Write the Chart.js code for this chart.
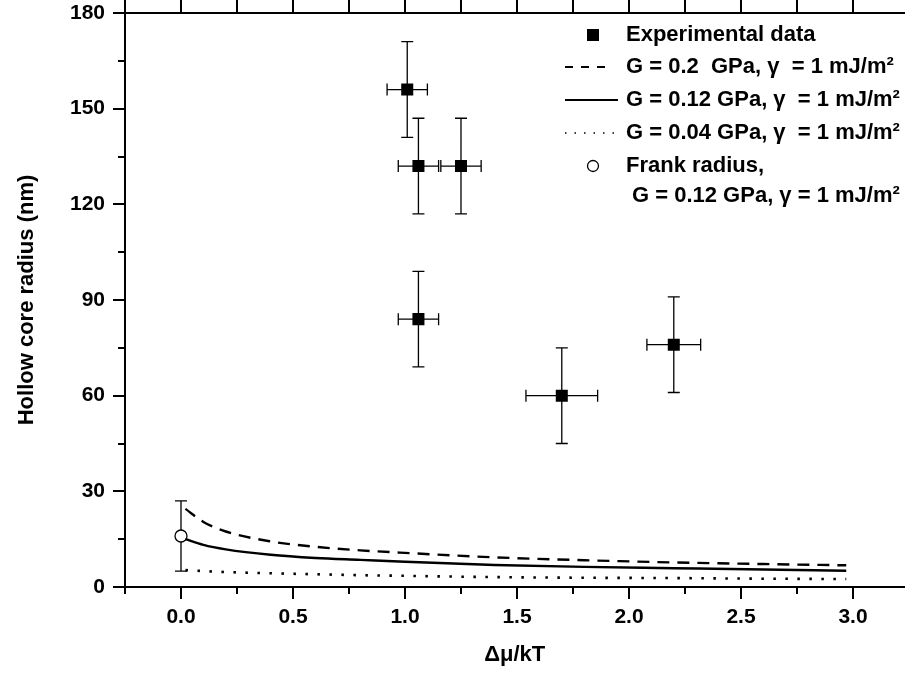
<!DOCTYPE html>
<html>
<head>
<meta charset="utf-8">
<script src="https://cdn.jsdelivr.net/npm/chart.js@4.4.1/dist/chart.umd.min.js"></script>
<style>
  html, body { margin: 0; padding: 0; background: #fff; overflow: hidden; }
  #chart { display: block; }
</style>
</head>
<body>
<canvas id="chart" width="913" height="682"></canvas>
<script>
// experimental points with error bars
const expX = [1.01, 1.06, 1.25, 1.06, 1.70, 2.20];
const expY = [156, 132, 132, 84, 60, 76];
const expXErr = [0.09, 0.09, 0.09, 0.09, 0.16, 0.12];
const expYErr = [15, 15, 15, 15, 15, 15];

// Frank radius point
const frankX = [0];
const frankY = [16];
const frankYErr = [11];

// model curves
const curveX  = [0.02, 0.1, 0.2, 0.4, 0.6, 0.8, 1.0, 1.4, 1.8, 2.2, 2.6, 2.97];
const dashedY = [24.5, 20.4, 17.4, 14.3, 12.6, 11.5, 10.7, 9.3, 8.4, 7.7, 7.2, 6.8];
const solidY  = [15.0, 13.2, 11.8, 10.1, 9.1, 8.5, 7.9, 6.9, 6.3, 5.9, 5.5, 5.1];
const dottedY = [5.3, 5.0, 4.7, 4.3, 4.0, 3.7, 3.5, 3.1, 2.9, 2.8, 2.6, 2.5];

// axes
const xTicks = [0, 0.5, 1.0, 1.5, 2.0, 2.5, 3.0];
const xMinorTicks = [-0.25, 0.25, 0.75, 1.25, 1.75, 2.25, 2.75, 3.25];
const yTicks = [0, 30, 60, 90, 120, 150, 180];
const yMinorTicks = [15, 45, 75, 105, 135, 165];
const xMin = -0.25, xMax = 3.23, yMin = 0, yMax = 180;

const legendLabels = [
    'Experimental data',
    'G = 0.2  GPa, \u03b3  = 1 mJ/m\u00b2',
    'G = 0.12 GPa, \u03b3  = 1 mJ/m\u00b2',
    'G = 0.04 GPa, \u03b3  = 1 mJ/m\u00b2',
    'Frank radius,',
    'G = 0.12 GPa, \u03b3 = 1 mJ/m\u00b2'
];

const FONT = '"Liberation Sans", Arial, sans-serif';

function toPoints(xs, ys) {
    return xs.map((v, i) => ({ x: v, y: ys[i] }));
}

// ---- error bars drawn under the markers ----
const errorBars = {
    id: 'errorBars',
    beforeDatasetsDraw(chart) {
        const { ctx, scales: { x, y } } = chart;
        const cap = 6;
        ctx.save();
        ctx.strokeStyle = '#000';
        ctx.lineWidth = 1.3;
        ctx.beginPath();
        expX.forEach((xv, i) => {
            const px = x.getPixelForValue(xv);
            const py = y.getPixelForValue(expY[i]);
            const yt = y.getPixelForValue(expY[i] + expYErr[i]);
            const yb = y.getPixelForValue(expY[i] - expYErr[i]);
            const xl = x.getPixelForValue(xv - expXErr[i]);
            const xr = x.getPixelForValue(xv + expXErr[i]);
            ctx.moveTo(px, yt); ctx.lineTo(px, yb);
            ctx.moveTo(px - cap, yt); ctx.lineTo(px + cap, yt);
            ctx.moveTo(px - cap, yb); ctx.lineTo(px + cap, yb);
            ctx.moveTo(xl, py); ctx.lineTo(xr, py);
            ctx.moveTo(xl, py - cap); ctx.lineTo(xl, py + cap);
            ctx.moveTo(xr, py - cap); ctx.lineTo(xr, py + cap);
        });
        frankX.forEach((xv, i) => {
            const px = x.getPixelForValue(xv);
            const yt = y.getPixelForValue(frankY[i] + frankYErr[i]);
            const yb = y.getPixelForValue(frankY[i] - frankYErr[i]);
            ctx.moveTo(px, yt); ctx.lineTo(px, yb);
            ctx.moveTo(px - cap, yt); ctx.lineTo(px + cap, yt);
            ctx.moveTo(px - cap, yb); ctx.lineTo(px + cap, yb);
        });
        ctx.stroke();
        ctx.restore();
    }
};

// ---- outward tick marks (major longer than minor) ----
const tickMarks = {
    id: 'tickMarks',
    afterDraw(chart) {
        const { ctx, scales: { x, y, x2 } } = chart;
        ctx.save();
        ctx.strokeStyle = '#000';
        ctx.lineWidth = 2;
        ctx.beginPath();
        xTicks.forEach(v => {
            const p = Math.round(x.getPixelForValue(v));
            ctx.moveTo(p, x.top); ctx.lineTo(p, x.top + 12);
        });
        xMinorTicks.forEach(v => {
            if (v > xMax) return;
            const p = Math.round(x.getPixelForValue(v));
            ctx.moveTo(p, x.top); ctx.lineTo(p, x.top + 7);
        });
        xTicks.concat(xMinorTicks).forEach(v => {
            if (v > xMax) return;
            const p = Math.round(x2.getPixelForValue(v));
            ctx.moveTo(p, x2.bottom); ctx.lineTo(p, x2.bottom - 13);
        });
        yTicks.forEach(v => {
            const p = Math.round(y.getPixelForValue(v));
            ctx.moveTo(y.right, p); ctx.lineTo(y.right - 12, p);
        });
        yMinorTicks.forEach(v => {
            const p = Math.round(y.getPixelForValue(v));
            ctx.moveTo(y.right, p); ctx.lineTo(y.right - 7, p);
        });
        ctx.stroke();
        ctx.restore();
    }
};

// ---- hand drawn legend (needs the two-line Frank entry) ----
const legendBox = {
    id: 'legendBox',
    afterDraw(chart) {
        const { ctx } = chart;
        const symX = 593, lineL = 565, lineR = 618, textX = 626;
        const rowY = [35, 67, 100, 133, 166, 196];
        ctx.save();
        ctx.fillStyle = '#000';
        ctx.strokeStyle = '#000';
        ctx.font = 'bold 22px ' + FONT;
        ctx.textBaseline = 'middle';
        ctx.textAlign = 'left';

        // square
        ctx.fillRect(symX - 6, rowY[0] - 6, 12, 12);
        // dashed
        ctx.lineWidth = 2;
        ctx.setLineDash([8, 8]);
        ctx.beginPath(); ctx.moveTo(lineL, rowY[1]); ctx.lineTo(lineR - 8, rowY[1]); ctx.stroke();
        // solid
        ctx.setLineDash([]);
        ctx.beginPath(); ctx.moveTo(lineL, rowY[2]); ctx.lineTo(lineR, rowY[2]); ctx.stroke();
        // dotted
        ctx.lineWidth = 1.5;
        ctx.setLineDash([1.5, 8]);
        ctx.beginPath(); ctx.moveTo(lineL, rowY[3]); ctx.lineTo(lineR, rowY[3]); ctx.stroke();
        ctx.setLineDash([]);
        // circle
        ctx.lineWidth = 1.3;
        ctx.beginPath(); ctx.arc(symX, rowY[4], 5.5, 0, Math.PI * 2);
        ctx.fillStyle = '#fff'; ctx.fill(); ctx.stroke();

        ctx.fillStyle = '#000';
        legendLabels.forEach((t, i) => {
            ctx.fillText(t, i === 5 ? textX + 6 : textX, rowY[i]);
        });
        ctx.restore();
    }
};

const ctx = document.getElementById('chart').getContext('2d');
new Chart(ctx, {
    type: 'scatter',
    data: {
        datasets: [
            {
                label: 'G = 0.2 GPa',
                data: toPoints(curveX, dashedY),
                showLine: true,
                borderColor: '#000',
                borderWidth: 2.4,
                borderDash: [12, 8],
                pointRadius: 0,
                cubicInterpolationMode: 'monotone'
            },
            {
                label: 'G = 0.12 GPa',
                data: toPoints(curveX, solidY),
                showLine: true,
                borderColor: '#000',
                borderWidth: 2.4,
                pointRadius: 0,
                cubicInterpolationMode: 'monotone'
            },
            {
                label: 'G = 0.04 GPa',
                data: toPoints(curveX, dottedY),
                showLine: true,
                borderColor: '#000',
                borderWidth: 2.6,
                borderDash: [2.5, 9.5],
                pointRadius: 0,
                cubicInterpolationMode: 'monotone'
            },
            {
                label: 'Experimental data',
                data: toPoints(expX, expY),
                pointStyle: 'rect',
                pointRadius: 8.5,
                backgroundColor: '#000',
                borderColor: '#000',
                borderWidth: 0
            },
            {
                label: 'Frank radius',
                data: toPoints(frankX, frankY),
                pointStyle: 'circle',
                pointRadius: 6,
                backgroundColor: '#fff',
                borderColor: '#000',
                borderWidth: 1.3
            }
        ]
    },
    options: {
        responsive: false,
        animation: false,
        layout: { padding: 0 },
        plugins: {
            legend: { display: false },
            tooltip: { enabled: false }
        },
        scales: {
            x: {
                type: 'linear',
                position: 'bottom',
                min: xMin,
                max: xMax,
                afterBuildTicks: axis => { axis.ticks = xTicks.map(v => ({ value: v })); },
                afterFit: axis => {
                    axis.height = 95;
                    axis.paddingLeft = 0; axis.paddingRight = 0;
                },
                grid: { display: false, drawTicks: false },
                border: { display: true, color: '#000', width: 2 },
                ticks: {
                    color: '#000',
                    padding: 18,
                    maxRotation: 0,
                    font: { family: FONT, size: 21, weight: 'bold' },
                    callback: v => v.toFixed(1)
                },
                title: {
                    display: true,
                    text: '\u0394\u03bc/kT',
                    color: '#000',
                    font: { family: FONT, size: 22, weight: 'bold' },
                    padding: { top: 0, bottom: 14 }
                }
            },
            x2: {
                type: 'linear',
                position: 'top',
                min: xMin,
                max: xMax,
                afterFit: axis => {
                    axis.height = 13;
                    axis.paddingLeft = 0; axis.paddingRight = 0;
                },
                grid: { display: false, drawTicks: false },
                border: { display: true, color: '#000', width: 2 },
                ticks: { display: false }
            },
            y: {
                type: 'linear',
                position: 'left',
                min: yMin,
                max: yMax,
                afterBuildTicks: axis => { axis.ticks = yTicks.map(v => ({ value: v })); },
                afterFit: axis => {
                    axis.width = 125;
                    axis.paddingTop = 0; axis.paddingBottom = 0;
                },
                grid: { display: false, drawTicks: false },
                border: { display: true, color: '#000', width: 2 },
                ticks: {
                    color: '#000',
                    padding: 20,
                    font: { family: FONT, size: 21, weight: 'bold' },
                    callback: v => String(v)
                },
                title: {
                    display: true,
                    text: 'Hollow core radius (nm)',
                    color: '#000',
                    font: { family: FONT, size: 22, weight: 'bold' },
                    padding: { top: 14, bottom: 0 }
                }
            }
        }
    },
    plugins: [errorBars, tickMarks, legendBox]
});
</script>
</body>
</html>
